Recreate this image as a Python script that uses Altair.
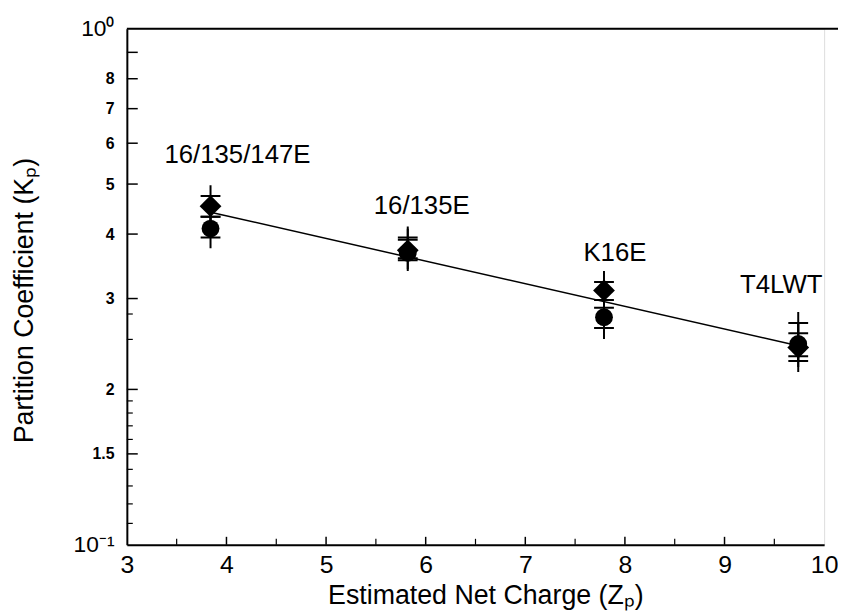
import altair as alt
import pandas as pd

# ---- data ----
group_labels = ["16/135/147E", "16/135E", "K16E", "T4LWT"]
charge = [3.84, 5.82, 7.79, 9.74]

kp_diamond = [0.453, 0.372, 0.311, 0.241]
kp_diamond_lo = [0.432, 0.359, 0.298, 0.227]
kp_diamond_hi = [0.474, 0.394, 0.323, 0.257]

kp_circle = [0.410, 0.368, 0.276, 0.245]
kp_circle_lo = [0.394, 0.356, 0.263, 0.232]
kp_circle_hi = [0.432, 0.390, 0.288, 0.269]

label_x = [4.11, 5.96, 7.90, 9.57]
label_y = [0.570, 0.453, 0.368, 0.318]

fit_x = [3.84, 9.74]
fit_y = [0.441, 0.243]

x_major = [3, 4, 5, 6, 7, 8, 9, 10]
x_minor = [3.5, 4.5, 5.5, 6.5, 7.5, 8.5, 9.5]
y_labeled = [0.1, 0.15, 0.2, 0.3, 0.4, 0.5, 0.6, 0.7, 0.8, 1.0]
y_inner_labeled = [0.15, 0.2, 0.3, 0.4, 0.5, 0.6, 0.7, 0.8]
y_minor = [0.11, 0.12, 0.13, 0.14, 0.16, 0.17, 0.18, 0.19, 0.25, 0.28, 0.9]

W, H = 704, 521
FONT = "Liberation Sans"

xscale = alt.Scale(domain=[3, 10], nice=False, zero=False)
yscale = alt.Scale(type="log", domain=[0.1, 1.0], nice=False)

label_expr = (
    "datum.value == 1 ? '10\u2070' : (datum.value == 0.1 ? '10\u207b\u00b9' : "
    f"(indexof({y_inner_labeled}, datum.value) >= 0 ? format(datum.value * 10, '.2~f') : ''))"
)

xaxis = alt.Axis(
    values=x_major, format="d", ticks=False, grid=False,
    domainColor="black", domainWidth=2,
    labelFontSize=25, labelFont=FONT, labelColor="black", labelPadding=8,
    labelFlush=False, labelOverlap=False,
    title="Estimated Net Charge (Z\u209a)", titleFont=FONT, titleFontSize=27,
    titleFontWeight="normal", titleColor="black",
    titleX=362, titleY=59, titleBaseline="alphabetic", titleAlign="center",
)
yaxis = alt.Axis(
    values=y_labeled + y_minor, labelExpr=label_expr, ticks=False, grid=False,
    domainColor="black", domainWidth=2,
    labelFontSize={"condition": {"test": "datum.value == 1 || datum.value == 0.1", "value": 23}, "value": 16},
    labelFontWeight={"condition": {"test": "datum.value == 1 || datum.value == 0.1", "value": "normal"}, "value": "bold"},
    labelFont=FONT, labelColor="black", labelPadding=13,
    labelFlush=False, labelOverlap=False,
    title="Partition Coefficient (K\u209a)", titleFont=FONT, titleFontSize=27,
    titleFontWeight="normal", titleColor="black",
    titleX=-95, titleY=274, titleBaseline="alphabetic", titleAlign="center",
)

X = alt.X("x:Q", scale=xscale, axis=xaxis)
Y = alt.Y("y:Q", scale=yscale, axis=yaxis)

pts = pd.DataFrame({
    "x": charge + charge,
    "y": kp_diamond + kp_circle,
    "y2": kp_diamond_hi + kp_circle_hi,
    "lo": kp_diamond_lo + kp_circle_lo,
    "kind": ["diamond"] * 4 + ["circle"] * 4,
})
ends = pd.DataFrame({
    "x": charge * 4,
    "y": kp_diamond_lo + kp_diamond_hi + kp_circle_lo + kp_circle_hi,
})
fit = pd.DataFrame({"x": fit_x, "y": fit_y})
labels = pd.DataFrame({"x": label_x, "y": label_y, "t": group_labels})

xt_major = alt.Chart(pd.DataFrame({"x": x_major[1:-1]})).mark_rule(color="black", strokeWidth=1.5).encode(
    x=X, y=alt.value(H), y2=alt.value(H - 8))
xt_minor = alt.Chart(pd.DataFrame({"x": x_minor})).mark_rule(color="black", strokeWidth=1.2).encode(
    x=X, y=alt.value(H), y2=alt.value(H - 6))
yt_major = alt.Chart(pd.DataFrame({"y": y_inner_labeled + [0.9]})).mark_rule(color="black", strokeWidth=1.5).encode(
    y=Y, x=alt.value(0), x2=alt.value(11))
yt_minor = alt.Chart(pd.DataFrame({"y": [v for v in y_minor if v != 0.9]})).mark_rule(color="black", strokeWidth=1.2).encode(
    y=Y, x=alt.value(0), x2=alt.value(6))
top_border = alt.Chart(pd.DataFrame({"y": [1.0]})).mark_rule(color="black", strokeWidth=2).encode(
    y=Y, x=alt.value(0), x2=alt.value(W + 14))

line = alt.Chart(fit).mark_line(color="black", strokeWidth=1.5).encode(x=X, y=Y)

err = alt.Chart(pts).mark_rule(color="black", strokeWidth=2).encode(
    x=X, y=alt.Y("lo:Q", scale=yscale, axis=yaxis), y2="y2:Q")
plus = alt.Chart(ends).mark_point(
    shape="M-1,0L1,0M0,-1.1L0,1.1", size=400, filled=False, color="black",
    strokeWidth=2, opacity=1).encode(x=X, y=Y)

diamonds = alt.Chart(pts[pts.kind == "diamond"]).mark_point(
    shape="diamond", filled=True, size=484, color="black", opacity=1).encode(x=X, y=Y)
circles = alt.Chart(pts[pts.kind == "circle"]).mark_point(
    shape="circle", filled=True, size=324, color="black", opacity=1).encode(x=X, y=Y)

text = alt.Chart(labels).mark_text(font=FONT, fontSize=26, color="black",
                                   align="center", baseline="middle").encode(x=X, y=Y, text="t:N")

chart = alt.layer(
    top_border, xt_major, xt_minor, yt_major, yt_minor,
    line, err, plus, circles, diamonds, text,
).properties(
    width=W, height=H,
    autosize=alt.AutoSizeParams(type="none"),
    padding={"left": 120, "top": 18, "right": 14, "bottom": 68},
).configure_view(strokeWidth=0, stroke="transparent").configure(background="white")

chart.save("out.html", embed_options={"renderer": "svg", "actions": False})
